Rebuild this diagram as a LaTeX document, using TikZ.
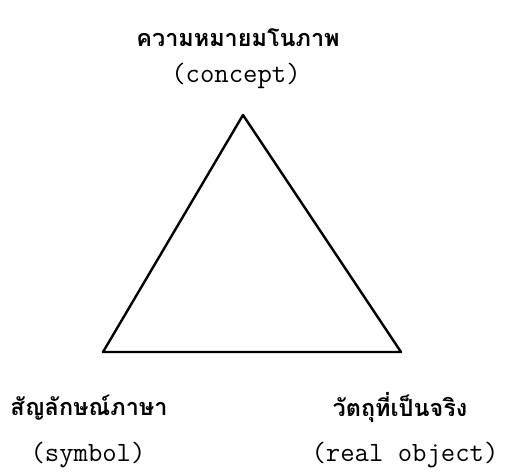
\documentclass[tikz,border=0pt]{standalone}
\usepackage{fontspec}
\newfontfamily\thaifont[Script=Thai]{Loma}
\usetikzlibrary{positioning}

\begin{document}
\begin{tikzpicture}[
	x=1bp, y=-1bp,
	th/.style = {font=\thaifont\bfseries\fontsize{23.5}{28}\selectfont, inner sep=0},
	en/.style = {font=\ttfamily\fontsize{28}{32}\selectfont, inner sep=0},
	e/.style = {line width=2.4bp, line join=round}
	]
	\useasboundingbox (0, 0) rectangle (505, 476);
	
	%Corners
	\coordinate	(top)	at	(243, 115);
	\coordinate	(left)	at	(103, 352);
	\coordinate	(right)	at	(401, 352);
	
	%Labels
	\node[th]	(t-th)	at	(238, 38)	{ความหมายมโนภาพ};
	\node[en]	(t-en)	at	(236, 76)	{(concept)};
	\node[th]	(l-th)	at	(89, 408)	{สัญลักษณ์ภาษา};
	\node[en]	(l-en)	at	(88, 455)	{(symbol)};
	\node[th]	(r-th)	at	(400, 408)	{วัตถุที่เป็นจริง};
	\node[en]	(r-en)	at	(405, 455)	{(real object)};
	
	%Lines
	\draw[e]	(top) -- (left) -- (right) -- cycle;
	
\end{tikzpicture}
\end{document}
